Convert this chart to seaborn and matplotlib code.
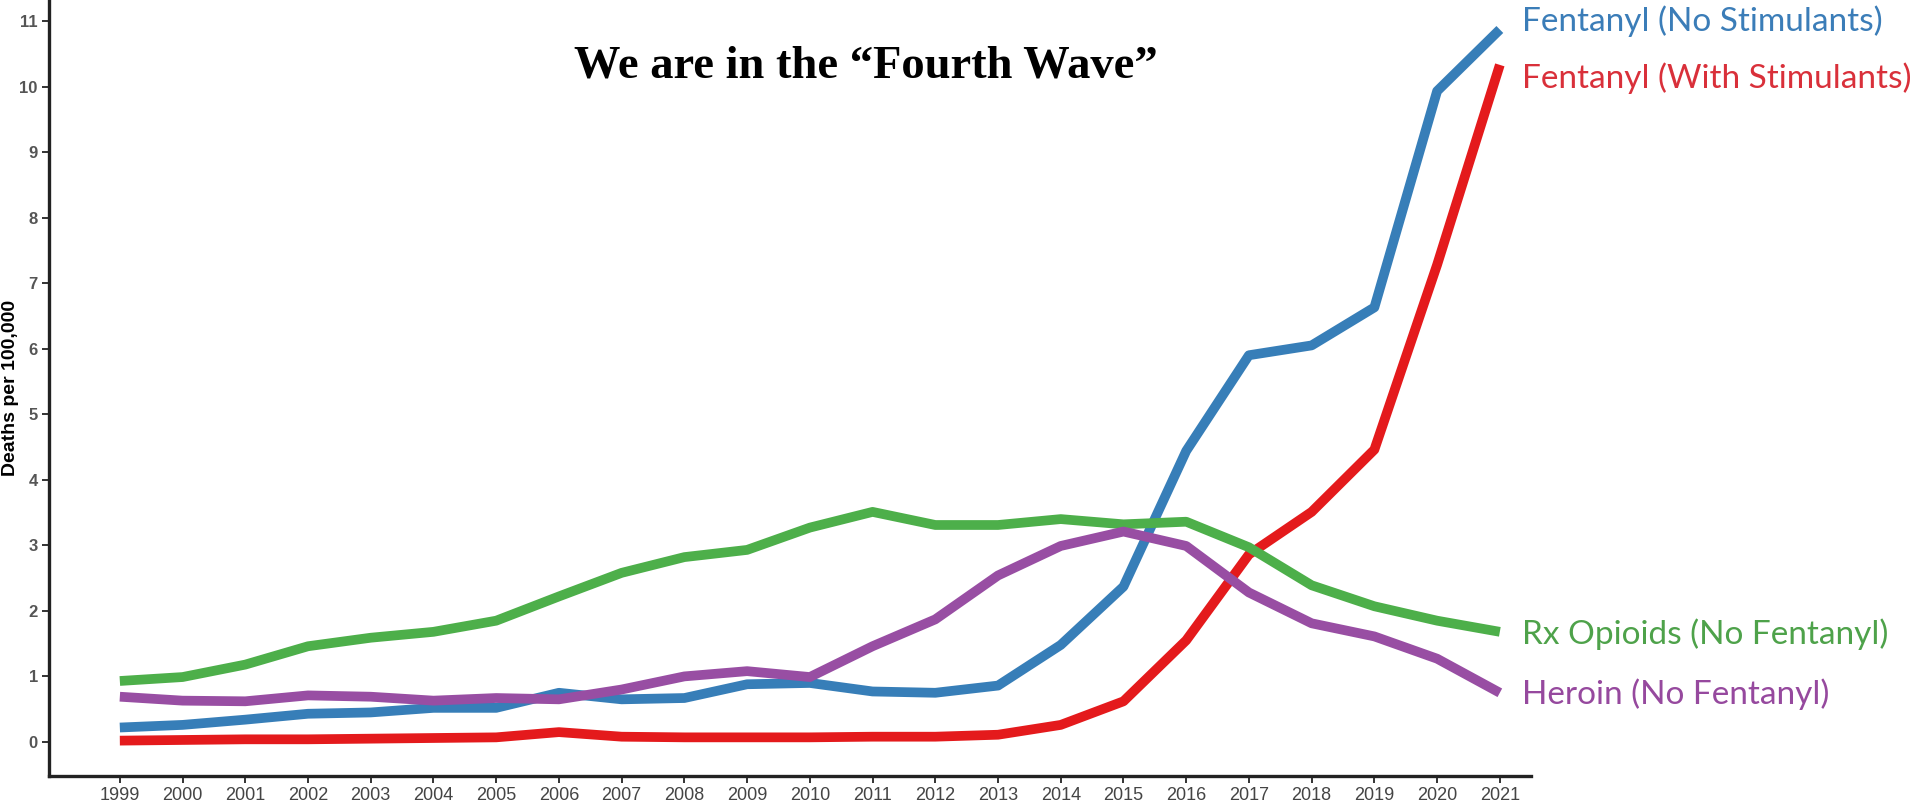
import numpy as np
import pandas as pd
import matplotlib.pyplot as plt
import seaborn as sns

# ---- data ----
years = list(range(1999, 2022))

fent_no_stim = [0.22, 0.26, 0.34, 0.43, 0.45, 0.52, 0.52, 0.75, 0.65, 0.67, 0.88, 0.90,
                0.77, 0.75, 0.86, 1.48, 2.37, 4.44, 5.90, 6.05, 6.63, 9.93, 10.87]
fent_with_stim = [0.02, 0.03, 0.04, 0.04, 0.05, 0.06, 0.07, 0.15, 0.08, 0.07, 0.07, 0.07,
                  0.08, 0.08, 0.11, 0.26, 0.62, 1.55, 2.86, 3.51, 4.46, 7.28, 10.33]
rx_opioids = [0.93, 0.99, 1.18, 1.46, 1.59, 1.68, 1.85, 2.22, 2.58, 2.82, 2.93, 3.27,
              3.51, 3.31, 3.31, 3.40, 3.32, 3.36, 2.97, 2.39, 2.07, 1.85, 1.68]
heroin = [0.69, 0.63, 0.62, 0.71, 0.69, 0.63, 0.67, 0.65, 0.80, 1.00, 1.08, 0.99,
          1.46, 1.87, 2.54, 2.99, 3.21, 2.99, 2.28, 1.81, 1.61, 1.27, 0.75]

series_names = ["Fentanyl (No Stimulants)", "Fentanyl (With Stimulants)",
                "Rx Opioids (No Fentanyl)", "Heroin (No Fentanyl)"]
line_colors = ["#377eb8", "#e41a1c", "#4daf4a", "#984ea3"]
text_colors = ["#3b7db8", "#d9303a", "#4ea24a", "#96499e"]
label_y = [11.0, 10.12, 1.64, 0.73]   # where the end labels sit
y_ticks = list(range(0, 12))

df = pd.DataFrame({
    "year": years * 4,
    "rate": fent_no_stim + fent_with_stim + rx_opioids + heroin,
    "series": sum([[n] * len(years) for n in series_names], []),
})

# ---- plot ----
sns.set_style("ticks")
plt.rcParams["font.family"] = ["Liberation Sans", "DejaVu Sans"]

fig = plt.figure(figsize=(19.2, 8.05), dpi=100)
ax = fig.add_axes([0.0255, 0.036, 0.772, 0.964])

sns.lineplot(data=df, x="year", y="rate", hue="series", hue_order=series_names,
             palette=dict(zip(series_names, line_colors)), linewidth=7,
             legend=False, ax=ax, solid_capstyle="butt")

ax.set_xlim(1997.87, 2021.5)
ax.set_ylim(-0.52, 11.32)
ax.set_xticks(years)
ax.set_xticklabels([str(y) for y in years], fontsize=13, color="#444444")
ax.set_yticks(y_ticks)
ax.set_yticklabels([str(t) for t in y_ticks], fontsize=12, fontweight="bold", color="#555555")
ax.tick_params(axis="both", length=5, width=1.4, color="#333333", pad=3)
ax.set_xlabel("")
ax.set_ylabel("Deaths per 100,000", fontsize=14, fontweight="bold", color="black")
ax.yaxis.set_label_coords(-0.0205, 0.5)

for side in ["top", "right"]:
    ax.spines[side].set_visible(False)
for side in ["left", "bottom"]:
    ax.spines[side].set_linewidth(2.4)
    ax.spines[side].set_color("#222222")

# end labels
for name, c, yv in zip(series_names, text_colors, label_y):
    ax.annotate(name, xy=(years[-1], yv), xytext=(16, 0), textcoords="offset points",
                va="center", ha="left", fontsize=24, color=c, family=["Lato", "DejaVu Sans"],
                annotation_clip=False)

fig.text(0.451, 0.918, "We are in the \u201cFourth Wave\u201d", ha="center", va="center",
         fontsize=33.5, fontweight="bold", color="black",
         family=["Liberation Serif", "DejaVu Serif"])

fig.savefig("out.png", dpi=100)
